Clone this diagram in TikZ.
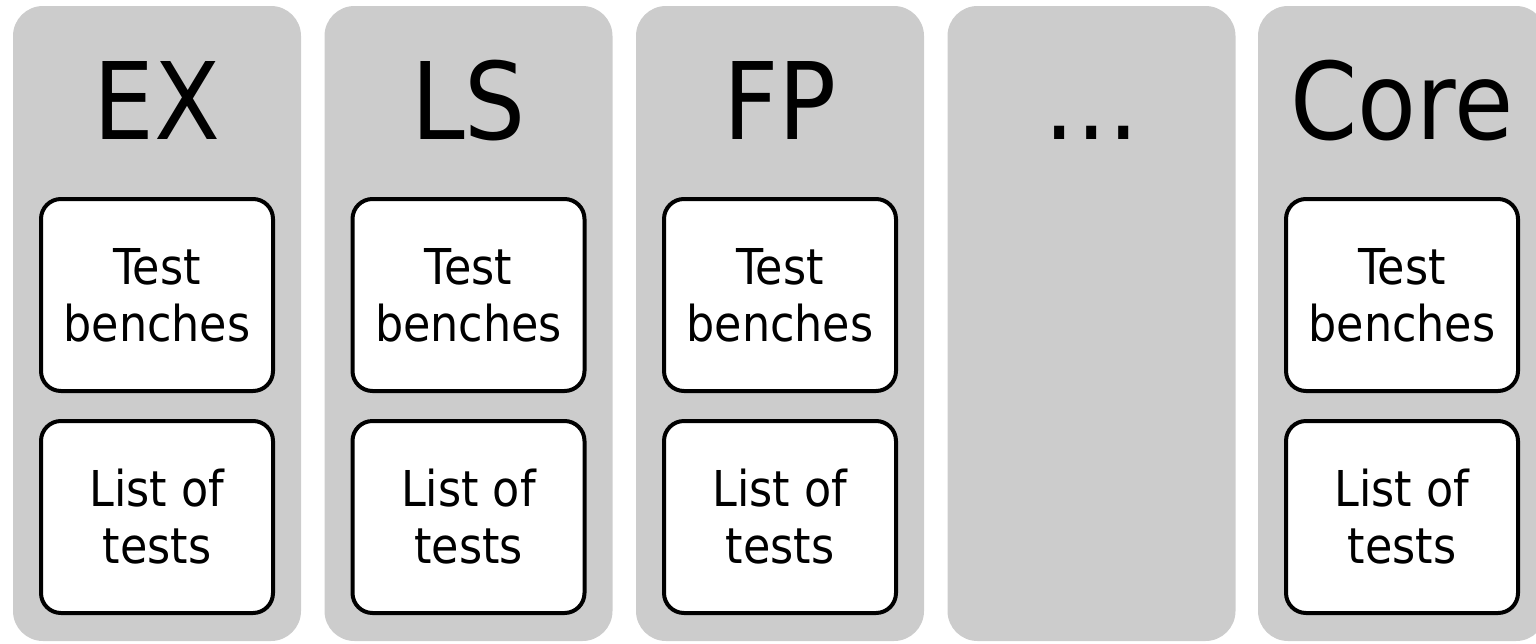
\documentclass[tikz,border=0pt]{standalone}
\usepackage{fontspec}
\setmainfont{DejaVu Sans}[FakeStretch=0.9]
\begin{document}
\begin{tikzpicture}[x=0.5pt, y=-0.5pt]
  \tikzstyle{every node}=[inner sep=0pt, outer sep=0pt]
  \tikzstyle{column}=[fill=black!20, rounded corners=15pt, minimum width=144pt, minimum height=317.5pt]
  \tikzstyle{title}=[anchor=base, font=\fontsize{53.5}{60}\selectfont]
  \tikzstyle{testbox}=[draw, line width=2pt, fill=white, rounded corners=10pt, minimum width=116pt, minimum height=96pt, align=center, font=\fontsize{24.7}{28.5}\selectfont]
  \useasboundingbox (0,0) rectangle (1536,643);
  \clip (0,0) rectangle (1536,643);
  \foreach \x/\name/\lbl in {157/ex/EX, 468.5/ls/LS, 780/fp/FP, 1402/core/Core} {
    \node [column] (col\name) at (\x, 323.5) {};
    \node [title] (title\name) at (\x, 139) {\lbl};
    \node [testbox] (bench\name) at (\x, 295) {Test\\benches};
    \node [testbox] (list\name) at (\x, 517) {List of\\tests};
  }
  \node [column] (colmore) at (1091.5, 323.5) {};
  \node [title] (more) at (1091.5, 139) {…};
\end{tikzpicture}
\end{document}
